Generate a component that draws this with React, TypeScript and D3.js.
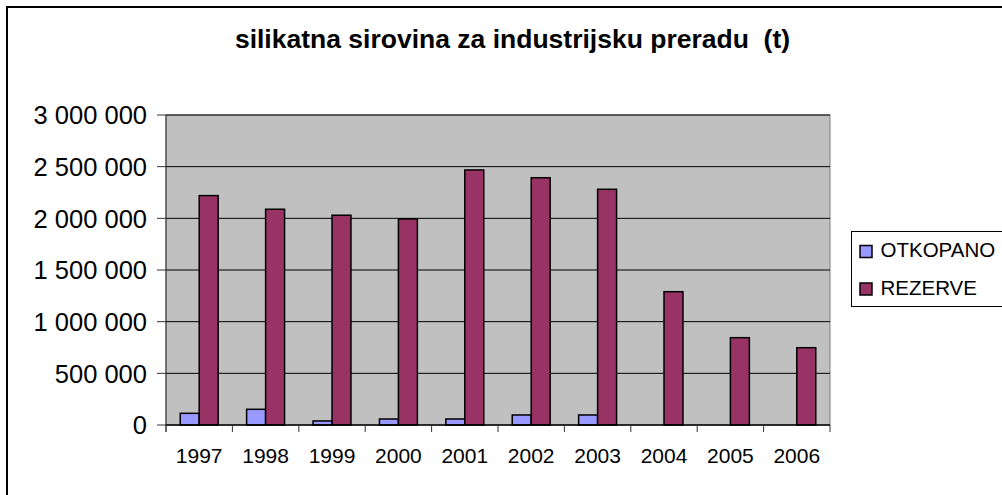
import React from 'react';
import * as d3 from 'd3';

// years on the category axis
const years = ['1997', '1998', '1999', '2000', '2001', '2002', '2003', '2004', '2005', '2006'];
// mined amount (t)
const otkopano = [113000, 152000, 39000, 58000, 58000, 97000, 97000, 0, 0, 0];
// reserves (t)
const rezerve = [2220000, 2088000, 2030000, 1994000, 2468000, 2393000, 2281000, 1290000, 845000, 748000];
const seriesNames = ['OTKOPANO', 'REZERVE'];
const seriesColors = ['#9999FF', '#993366'];
const yTicks = [0, 500000, 1000000, 1500000, 2000000, 2500000, 3000000];

const W = 1002;
const H = 495;
const plot = {left: 166, top: 115, right: 830, bottom: 425};

const App = () => {
    const x = d3.scaleBand().domain(years).range([plot.left, plot.right]);
    const y = d3.scaleLinear().domain([0, 3000000]).range([plot.bottom, plot.top]);

    // excel style gap width 150%
    const groupW = x.bandwidth() * 2 / 3.5;
    const xs = d3.scaleBand().domain(seriesNames).range([0, groupW]);
    const offset = (x.bandwidth() - groupW) / 2;

    const fmt = (v) => d3.format(',')(v).replace(/,/g, ' ');
    const values = [otkopano, rezerve];

    return (
        <svg width={W} height={H} style={{position: 'absolute', left: 0, top: 0}}
             fontFamily="'Liberation Sans', Arial, sans-serif">
            <rect x={0} y={0} width={W} height={H} fill="white"/>
            <rect x={7} y={7} width={W + 10} height={H + 10} fill="none" stroke="black" strokeWidth={2}/>

            <text x={512.5} y={48} textAnchor="middle" fontWeight="bold" fontSize={26.5}>
                silikatna sirovina za industrijsku preradu{'\u00a0\u00a0'}(t)
            </text>

            {/* plot area */}
            <rect x={plot.left} y={plot.top} width={plot.right - plot.left} height={plot.bottom - plot.top}
                  fill="#C0C0C0" stroke="#808080" strokeWidth={1}/>

            {yTicks.filter(t => t > 0).map(t => (
                <line key={'g' + t} x1={plot.left} x2={plot.right} y1={y(t)} y2={y(t)} stroke="black" strokeWidth={1}/>
            ))}

            {/* bars */}
            {years.map((yr, i) => (
                <g key={yr} transform={`translate(${x(yr) + offset},0)`}>
                    {seriesNames.map((s, j) => {
                        const v = values[j][i];
                        if (v <= 0) return null;
                        return <rect key={s} x={xs(s)} y={y(v)} width={xs.bandwidth()} height={y(0) - y(v)}
                                     fill={seriesColors[j]} stroke="black" strokeWidth={1.5}/>;
                    })}
                </g>
            ))}

            {/* y axis */}
            <line x1={plot.left} x2={plot.left} y1={plot.top} y2={plot.bottom + 7} stroke="#333" strokeWidth={1}/>
            {yTicks.map(t => (
                <g key={'y' + t}>
                    <line x1={plot.left - 9} x2={plot.left} y1={y(t)} y2={y(t)} stroke="#333"/>
                    <text x={147} y={y(t)} dy="0.36em" textAnchor="end" fontSize={25.5}>{fmt(t)}</text>
                </g>
            ))}

            {/* x axis */}
            <line x1={plot.left} x2={plot.right} y1={plot.bottom} y2={plot.bottom} stroke="black" strokeWidth={1.5}/>
            {years.concat(['end']).map((yr, i) => {
                const xx = plot.left + i * x.bandwidth();
                return <line key={'xt' + i} x1={xx} x2={xx} y1={plot.bottom} y2={plot.bottom + 7} stroke="#333"/>;
            })}
            {years.map(yr => (
                <text key={'xl' + yr} x={x(yr) + x.bandwidth() / 2} y={463} textAnchor="middle" fontSize={21}>{yr}</text>
            ))}

            {/* legend */}
            <rect x={851.5} y={231.5} width={160} height={75} fill="white" stroke="black" strokeWidth={1}/>
            {seriesNames.map((s, j) => (
                <g key={'lg' + s} transform={`translate(860,${j === 0 ? 245.5 : 283})`}>
                    <rect x={0} y={0} width={12} height={12} fill={seriesColors[j]} stroke="black" strokeWidth={1.5}/>
                    <text x={20.5} y={11.5} fontSize={20.5}>{s}</text>
                </g>
            ))}
        </svg>
    );
};

export default App;
